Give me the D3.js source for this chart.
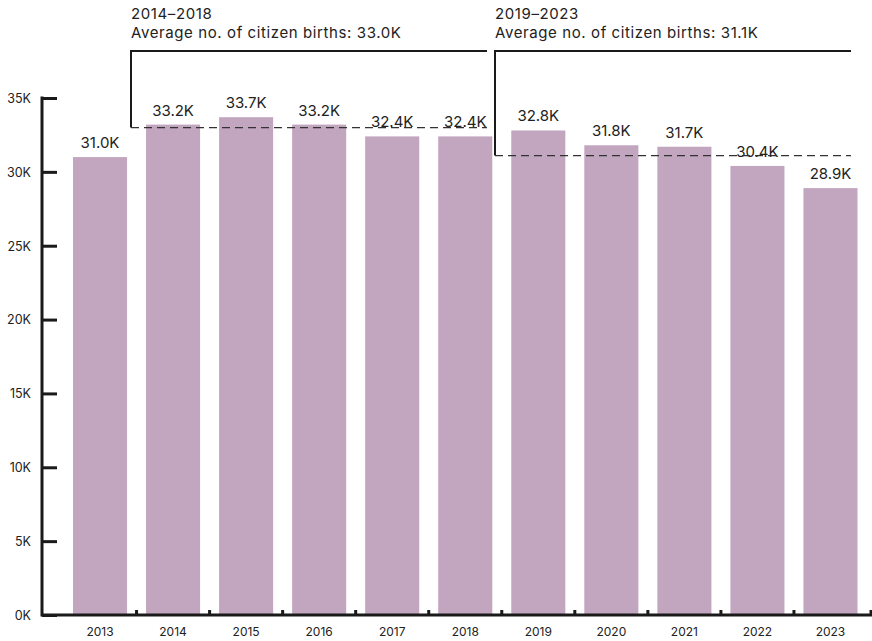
<!DOCTYPE html>
<html>
<head>
<meta charset="utf-8">
<script src="https://cdn.jsdelivr.net/npm/d3@7"></script>
<style>
  html, body { margin: 0; padding: 0; background: #fff; }
  svg { display: block; }
  text { font-family: Inter, "Open Sans", sans-serif; fill: #222; }
</style>
</head>
<body>
<script>
// Citizen births per year
const years = ["2013", "2014", "2015", "2016", "2017", "2018", "2019", "2020", "2021", "2022", "2023"];
const births = [31000, 33200, 33700, 33200, 32400, 32400, 32800, 31800, 31700, 30400, 28900];
const yTicks = [0, 5000, 10000, 15000, 20000, 25000, 30000, 35000];

// Period averages shown as bracketed annotations
const periodNames = ["2014–2018", "2019–2023"];
const periodFirst = ["2014", "2019"];
const periodAverages = [33000, 31100];

const W = 872, H = 641;
const svg = d3.select("body").append("svg").attr("width", W).attr("height", H);

const axisX0 = 42, axisBottom = 615;
const x = d3.scaleBand().domain(years).range([63.5, 867]).paddingInner(0.26).paddingOuter(0.13);
const y = d3.scaleLinear().domain([0, 35000]).range([axisBottom, 98]);
const fmtK = v => (v / 1000).toFixed(1) + "K";

// Bars
svg.append("g").selectAll("rect").data(years).join("rect")
  .attr("x", d => x(d))
  .attr("width", x.bandwidth())
  .attr("y", (d, i) => y(births[i]))
  .attr("height", (d, i) => axisBottom - y(births[i]))
  .attr("fill", "#c2a5bf");

// Y axis
const yAxis = svg.append("g").attr("transform", `translate(${axisX0},0)`)
  .call(d3.axisRight(y).tickValues(yTicks).tickSize(15).tickFormat(d => (d / 1000) + "K"));
yAxis.select(".domain").remove();
yAxis.selectAll(".tick line").attr("stroke", "#1a1a1a").attr("stroke-width", 3);
yAxis.selectAll(".tick text").attr("x", -11).attr("text-anchor", "end")
  .attr("dy", "0.35em").style("font-size", "12.5px");
svg.append("line").attr("x1", axisX0).attr("x2", axisX0)
  .attr("y1", y(35000) - 1.5).attr("y2", axisBottom + 1.5)
  .attr("stroke", "#1a1a1a").attr("stroke-width", 3);

// X axis with small separators between bands
const step = x.step();
const xAxis = svg.append("g").attr("transform", `translate(0,${axisBottom})`)
  .call(d3.axisBottom(x).tickSize(0).tickPadding(12));
xAxis.select(".domain").remove();
xAxis.selectAll(".tick text").style("font-size", "12px").attr("dy", "0.71em");
svg.append("line").attr("x1", axisX0).attr("x2", W).attr("y1", axisBottom).attr("y2", axisBottom)
  .attr("stroke", "#1a1a1a").attr("stroke-width", 3);
svg.append("g").selectAll("line").data(years).join("line")
  .attr("x1", (d, i) => i === years.length - 1 ? W - 1 : x(d) + x.bandwidth() + (step - x.bandwidth()) / 2)
  .attr("x2", (d, i) => i === years.length - 1 ? W - 1 : x(d) + x.bandwidth() + (step - x.bandwidth()) / 2)
  .attr("y1", axisBottom).attr("y2", axisBottom - 5)
  .attr("stroke", "#1a1a1a").attr("stroke-width", 3);

// Value labels
svg.append("g").selectAll("text").data(years).join("text")
  .attr("x", d => x(d) + x.bandwidth() / 2)
  .attr("y", (d, i) => y(births[i]) - 9)
  .attr("text-anchor", "middle")
  .style("font-size", "15px")
  .text((d, i) => fmtK(births[i]));

// Period brackets with dashed average lines
const bracketTop = 51;
const bracketLeft = [131, 495];
const bracketRight = [487, 851];
periodNames.forEach((name, k) => {
  const g = svg.append("g");
  const x0 = bracketLeft[k], x1 = bracketRight[k], ya = y(periodAverages[k]);
  g.append("path")
    .attr("d", `M${x1},${bracketTop}H${x0}V${ya}`)
    .attr("fill", "none").attr("stroke", "#1a1a1a").attr("stroke-width", 2);
  g.append("line").attr("x1", x0).attr("x2", x1).attr("y1", ya).attr("y2", ya)
    .attr("stroke", "#333").attr("stroke-width", 1.3).attr("stroke-dasharray", "8,5");
  g.append("text").attr("x", x0).attr("y", 19).style("font-size", "15px")
    .style("letter-spacing", "0.6px").text(name);
  g.append("text").attr("x", x0).attr("y", 38).style("font-size", "15px")
    .style("letter-spacing", "0.6px")
    .text("Average no. of citizen births: " + fmtK(periodAverages[k]));
});
</script>
</body>
</html>
